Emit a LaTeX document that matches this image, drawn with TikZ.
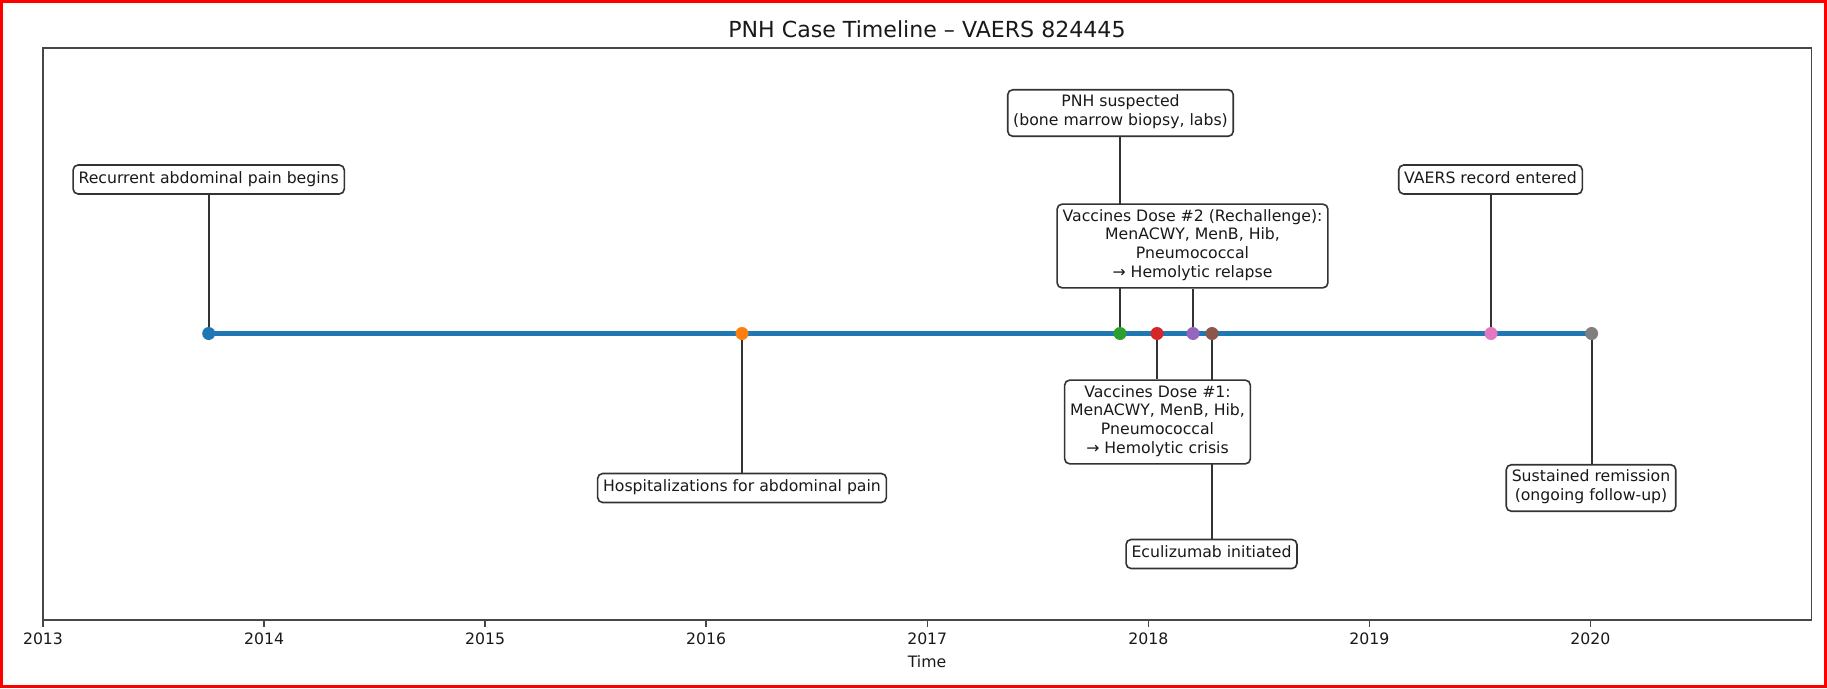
\documentclass[tikz,border=0pt]{standalone}
\usepackage{fontspec}
\setmainfont{DejaVu Sans}
\usetikzlibrary{backgrounds}
\definecolor{tblue}{RGB}{31,119,180}
\definecolor{torange}{RGB}{255,127,14}
\definecolor{tgreen}{RGB}{44,160,44}
\definecolor{tred}{RGB}{214,39,40}
\definecolor{tpurple}{RGB}{148,103,189}
\definecolor{tbrown}{RGB}{140,86,75}
\definecolor{tpink}{RGB}{227,119,194}
\definecolor{tgray}{RGB}{127,127,127}
\newcommand{\lblfont}{\fontsize{15.7}{18.6}\selectfont}
\newcommand{\ttlfont}{\fontsize{22.1}{26}\selectfont}
\begin{document}
\begin{tikzpicture}[x=1pt,y=-1pt,
  evbox/.style={draw=black!80, fill=white, rounded corners=5, line width=1.6,
    align=center, inner xsep=5.5, inner ysep=5.2, font=\lblfont, text=black!90,
    execute at begin node=\strut, execute at end node=\strut},
  evdot/.style={circle, inner sep=0, minimum size=13, draw=none},
  stem/.style={draw=black!80, line width=2.2},
  spine/.style={draw=black!72, line width=1.5},
  ticklbl/.style={font=\lblfont, text=black!90, inner sep=0}
]
\useasboundingbox (0,0) rectangle (1827,688);

% axes frame
\draw[spine] (43,48) rectangle (1811.5,620);
\foreach \k/\yr in {0/2013,1/2014,2/2015,3/2016,4/2017,5/2018,6/2019,7/2020}{
  \draw[spine] (43+\k*221.06,620) -- (43+\k*221.06,627);
  \node[ticklbl] (tick\yr) at (43+\k*221.06,639) {\yr};
}
\node[ticklbl] (xlabel) at (927,662) {Time};
\node[font=\ttlfont, text=black!90, inner sep=0] (title) at (927,29) {PNH Case Timeline – VAERS 824445};

% event dots
\node[evdot, fill=tblue]   (d1) at (208.7,333.5) {};
\node[evdot, fill=torange] (d2) at (742,333.5) {};
\node[evdot, fill=tgreen]  (d3) at (1120,333.5) {};
\node[evdot, fill=tred]    (d4) at (1157,333.5) {};
\node[evdot, fill=tpurple] (d5) at (1193,333.5) {};
\node[evdot, fill=tbrown]  (d6) at (1212,333.5) {};
\node[evdot, fill=tpink]   (d7) at (1491,333.5) {};
\node[evdot, fill=tgray]   (d8) at (1591.6,333.5) {};

% event labels
\node[evbox] (b1) at (208.7,179.5) {Recurrent abdominal pain begins};
\node[evbox] (b2) at (742,488) {Hospitalizations for abdominal pain};
\node[evbox] (b3) at (1120.5,113) {PNH suspected\\(bone marrow biopsy, labs)};
\node[evbox] (b4) at (1157.5,422) {Vaccines Dose \#1:\\MenACWY, MenB, Hib,\\Pneumococcal\\→ Hemolytic crisis};
\node[evbox] (b5) at (1192.5,246) {Vaccines Dose \#2 (Rechallenge):\\MenACWY, MenB, Hib,\\Pneumococcal\\→ Hemolytic relapse};
\node[evbox] (b6) at (1211.5,554) {Eculizumab initiated};
\node[evbox] (b7) at (1490.5,179.5) {VAERS record entered};
\node[evbox] (b8) at (1591,488) {Sustained remission\\(ongoing follow-up)};

\begin{pgfonlayer}{background}
  \fill[white] (0,0) rectangle (1827,688);
  \draw[stem] (d1.center) -- (d1.center |- b1.south);
  \draw[stem] (d2.center) -- (d2.center |- b2.north);
  \draw[stem] (d3.center) -- (d3.center |- b3.south);
  \draw[stem] (d4.center) -- (d4.center |- b4.north);
  \draw[stem] (d5.center) -- (d5.center |- b5.south);
  \draw[stem] (d6.center) -- (d6.center |- b6.north);
  \draw[stem] (d7.center) -- (d7.center |- b7.south);
  \draw[stem] (d8.center) -- (d8.center |- b8.north);
  \draw[tblue, line width=4.5] (d1.center) -- (d8.center);
\end{pgfonlayer}

% outer red frame
\draw[red, line width=3] (1.5,1.5) rectangle (1825.5,686.5);
\end{tikzpicture}
\end{document}
